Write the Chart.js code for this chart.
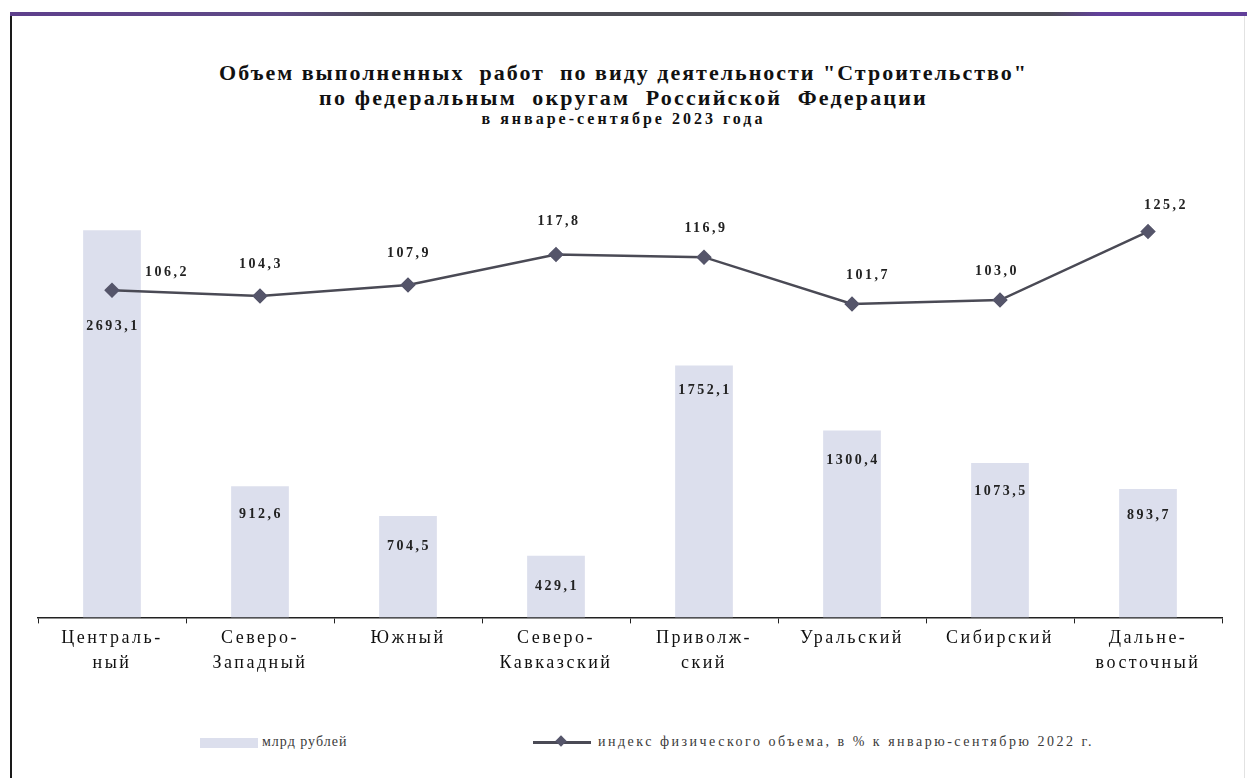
<!DOCTYPE html>
<html lang="ru">
<head>
    <meta charset="UTF-8">
    <title>Строительство по федеральным округам</title>
    <script src="https://cdn.jsdelivr.net/npm/chart.js"></script>
    <style>
        body {
            margin: 0;
            background: #fff;
            font-family: 'Liberation Serif', serif;
        }
        #page {
            position: relative;
            width: 1247px;
            height: 778px;
            overflow: hidden;
        }
        #frame {
            position: absolute;
            left: 10px;
            top: 13px;
            width: 1232px;
            height: 780px;
            border-left: 2px solid #1a1a1a;
            border-right: 1px solid #e2e2e2;
        }
        #topline {
            position: absolute;
            left: 10px;
            top: 12px;
            width: 1237px;
            height: 4px;
            background: linear-gradient(to right, #5e3f8c 0%, #5e4a86 22%, #4d4d55 30%, #4d4d55 84%, #62409a 88%, #62409a 100%);
        }
        .title {
            position: absolute;
            left: 0;
            width: 1247px;
            text-align: center;
            font-weight: bold;
            color: #111;
        }
        #chartBox {
            position: absolute;
            left: 0;
            top: 0;
            width: 1247px;
            height: 700px;
        }
        .legend {
            position: absolute;
            top: 734px;
            font-size: 14px;
            color: #3a3a3a;
            white-space: nowrap;
        }
    </style>
</head>
<body>
<div id="page">
    <div id="frame"></div>
    <div id="topline"></div>

    <div class="title" style="top:60px; font-size:22px; letter-spacing:2px;">Объем выполненных&nbsp; работ&nbsp; по виду деятельности "Строительство"</div>
    <div class="title" style="top:85px; font-size:22px; letter-spacing:2.2px;">по федеральным&nbsp; округам&nbsp; Российской&nbsp; Федерации</div>
    <div class="title" style="top:110px; font-size:16px; letter-spacing:3px;">в январе-сентябре 2023 года</div>

    <div id="chartBox"><canvas id="chart"></canvas></div>

    <!-- Legend -->
    <div style="position:absolute; left:200px; top:738px; width:58px; height:10px; background:rgb(220,223,237);"></div>
    <div class="legend" style="left:262px; letter-spacing:1px;">млрд рублей</div>
    <div style="position:absolute; left:533px; top:741px; width:58px; height:3px; background:#4a4a55;"></div>
    <div style="position:absolute; left:557px; top:737px; width:8px; height:8px; background:#55556a; transform:rotate(45deg);"></div>
    <div class="legend" style="left:598px; letter-spacing:2.5px;">индекс физического объема, в % к январю-сентябрю 2022 г.</div>
</div>

<script>
    // Data
    const districts = [
        ['Централь-', 'ный'],
        ['Северо-', 'Западный'],
        ['Южный'],
        ['Северо-', 'Кавказский'],
        ['Приволж-', 'ский'],
        ['Уральский'],
        ['Сибирский'],
        ['Дальне-', 'восточный']
    ];
    const volumeBn = [2693.1, 912.6, 704.5, 429.1, 1752.1, 1300.4, 1073.5, 893.7];
    const indexPct = [106.2, 104.3, 107.9, 117.8, 116.9, 101.7, 103.0, 125.2];

    // label offsets (pixels) relative to the mark
    const barLabelDy = [96, 28, 30, 31, 25, 30, 28, 27];
    const lineLabelDx = [54, 0, 0, 2, 1, 15, -4, 17];
    const lineLabelDy = [-18, -32, -32, -33, -29, -29, -29, -26];

    const fmt = v => v.toFixed(1).replace('.', ',');

    // wide letter spacing like the source document
    const spacing = {
        id: 'spacing',
        beforeLayout(chart) { chart.ctx.letterSpacing = '2.5px'; },
        beforeDraw(chart) { chart.ctx.letterSpacing = '2.5px'; }
    };

    const valueLabels = {
        id: 'valueLabels',
        afterDatasetsDraw(chart) {
            const ctx = chart.ctx;
            ctx.save();
            ctx.letterSpacing = '2.5px';
            ctx.font = 'bold 14px "Liberation Serif"';
            ctx.fillStyle = '#222';
            ctx.textAlign = 'center';
            ctx.textBaseline = 'middle';
            chart.getDatasetMeta(0).data.forEach((bar, i) => {
                ctx.fillText(fmt(volumeBn[i]), bar.x + 1, bar.y + barLabelDy[i]);
            });
            chart.getDatasetMeta(1).data.forEach((pt, i) => {
                ctx.fillText(fmt(indexPct[i]), pt.x + 1 + lineLabelDx[i], pt.y + lineLabelDy[i]);
            });
            ctx.restore();
        }
    };

    new Chart(document.getElementById('chart'), {
        type: 'bar',
        data: {
            labels: districts,
            datasets: [{
                label: 'млрд рублей',
                data: volumeBn,
                backgroundColor: 'rgb(220,223,237)',
                borderWidth: 0,
                categoryPercentage: 1,
                barPercentage: 0.39,
                yAxisID: 'y',
                order: 2
            }, {
                type: 'line',
                label: 'индекс физического объема, в % к январю-сентябрю 2022 г.',
                data: indexPct,
                borderColor: '#4a4a55',
                borderWidth: 2.5,
                pointStyle: 'rectRot',
                pointRadius: 6,
                pointBackgroundColor: '#55556a',
                pointBorderColor: '#55556a',
                tension: 0,
                yAxisID: 'y1',
                order: 1
            }]
        },
        options: {
            responsive: true,
            maintainAspectRatio: false,
            animation: false,
            layout: {
                padding: { left: 38, right: 25, top: 186, bottom: 22 }
            },
            plugins: {
                legend: { display: false },
                tooltip: { enabled: false }
            },
            scales: {
                x: {
                    grid: {
                        offset: true,
                        drawOnChartArea: false,
                        color: '#222',
                        tickLength: 6
                    },
                    border: { color: '#222', width: 1.5 },
                    ticks: {
                        color: '#111',
                        padding: 3,
                        maxRotation: 0,
                        font: { family: 'Liberation Serif', size: 18, lineHeight: 1.35 }
                    }
                },
                y: {
                    display: false,
                    min: 0,
                    max: 3000
                },
                y1: {
                    display: false,
                    min: 0,
                    max: 140
                }
            }
        },
        plugins: [spacing, valueLabels]
    });
</script>
</body>
</html>
